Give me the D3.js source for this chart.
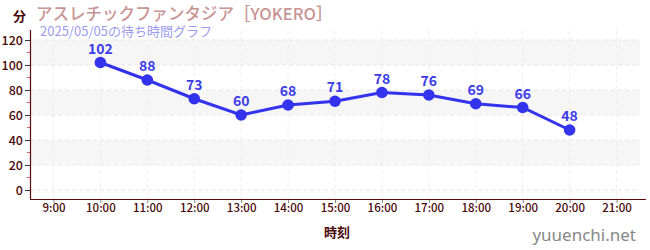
<!DOCTYPE html>
<html><head><meta charset="utf-8">
<script src="https://cdn.jsdelivr.net/npm/d3@7"></script>
<style>body{margin:0;background:#fff;font-family:"Noto Sans CJK JP","Noto Sans",sans-serif;}</style>
</head><body>
<svg id="c" width="650" height="250"></svg>
<script>
const hours = [10,11,12,13,14,15,16,17,18,19,20];
const waits = [102,88,73,60,68,71,78,76,69,66,48];
const xTicks = [9,10,11,12,13,14,15,16,17,18,19,20,21];
const yTicks = [0,20,40,60,80,100,120];
const title = "アスレチックファンタジア［YOKERO］";
const subtitle = "2025/05/05の待ち時間グラフ";

const F = "'Noto Sans CJK JP','Noto Sans',sans-serif";
const svg = d3.select("#c");
const L=30, R=640, T=30, B=199;
const x = d3.scaleLinear().domain([8.5,21.5]).range([L,R]);
const y = d3.scaleLinear().domain([0,120]).range([190,40]);

// bands
[[20,40],[60,80],[100,120]].forEach(([a,b])=>{
  svg.append("rect").attr("x",L).attr("width",R-L).attr("y",y(b)).attr("height",y(a)-y(b)).attr("fill","#f6f6f6");
});
// grid
yTicks.forEach(v=>svg.append("line").attr("x1",L).attr("x2",R).attr("y1",y(v)).attr("y2",y(v)).attr("stroke","#e6e6e6").attr("stroke-dasharray","4,3"));
xTicks.forEach(v=>svg.append("line").attr("x1",x(v)).attr("x2",x(v)).attr("y1",T).attr("y2",B).attr("stroke","#eeeeee").attr("stroke-dasharray","4,3"));

// y axis
const ya = svg.append("g").attr("transform",`translate(${L},0)`).call(d3.axisLeft(y).tickValues(yTicks).tickSize(5).tickPadding(2));
ya.select(".domain").remove();
ya.selectAll("line").attr("stroke","#333");
ya.selectAll("text").attr("fill","#4a0a0a").style("font-size","12.5px").style("font-weight","500").style("font-family",F);
// minor ticks
[10,30,50,70,90,110].forEach(v=>svg.append("line").attr("x1",L-3).attr("x2",L).attr("y1",y(v)).attr("y2",y(v)).attr("stroke","#e06060"));
svg.append("line").attr("x1",L+0.5).attr("x2",L+0.5).attr("y1",T).attr("y2",B).attr("stroke","#5a0a0a").attr("stroke-width",1.2);

// x axis
const xa = svg.append("g").attr("transform",`translate(0,${B})`).call(d3.axisBottom(x).tickValues(xTicks).tickFormat(d=>d+":00").tickSize(4).tickPadding(1));
xa.select(".domain").remove();
xa.selectAll("line").attr("stroke","#888");
xa.selectAll("text").attr("fill","#4a0a0a").style("font-size","11.5px").style("font-weight","500").style("font-family",F);
svg.append("line").attr("x1",L).attr("x2",R+6).attr("y1",B+0.5).attr("y2",B+0.5).attr("stroke","#5a0a0a").attr("stroke-width",1.2);

// line
svg.append("path").datum(hours.map((h,i)=>[h,waits[i]]))
  .attr("d",d3.line().x(d=>x(d[0])).y(d=>y(d[1])))
  .attr("fill","none").attr("stroke","#3333ee").attr("stroke-width",3);
svg.selectAll("circle.p").data(hours).enter().append("circle")
  .attr("cx",d=>x(d)).attr("cy",(d,i)=>y(waits[i])).attr("r",5.8).attr("fill","#3333ee");
svg.selectAll("text.v").data(hours).enter().append("text")
  .attr("x",d=>x(d)).attr("y",(d,i)=>y(waits[i])-9).attr("text-anchor","middle")
  .attr("fill","#3d3de8").style("font-size","14px").style("font-weight","bold").style("font-family",F)
  .text((d,i)=>waits[i]);

// titles
svg.append("text").attr("x",13).attr("y",21).text("分").attr("fill","#4a0a0a").style("font-size","13px").style("font-weight","bold").style("font-family",F);
svg.append("text").attr("x",36).attr("y",20).text(title).attr("fill","#c89494").style("font-size","16.5px").style("font-weight","500").style("font-family",F);
svg.append("text").attr("x",40).attr("y",36).text(subtitle).attr("fill","#9c9cee").style("font-size","13px").style("font-family",F);
svg.append("text").attr("x",(L+R)/2+2).attr("y",237).attr("text-anchor","middle").text("時刻").attr("fill","#4a0a0a").style("font-size","13px").style("font-weight","bold").style("font-family",F);
svg.append("text").attr("x",636).attr("y",241).attr("text-anchor","end").text("yuuenchi.net").attr("fill","#888").style("font-size","17px").style("font-family","'Noto Sans',sans-serif");
</script>
</body></html>
